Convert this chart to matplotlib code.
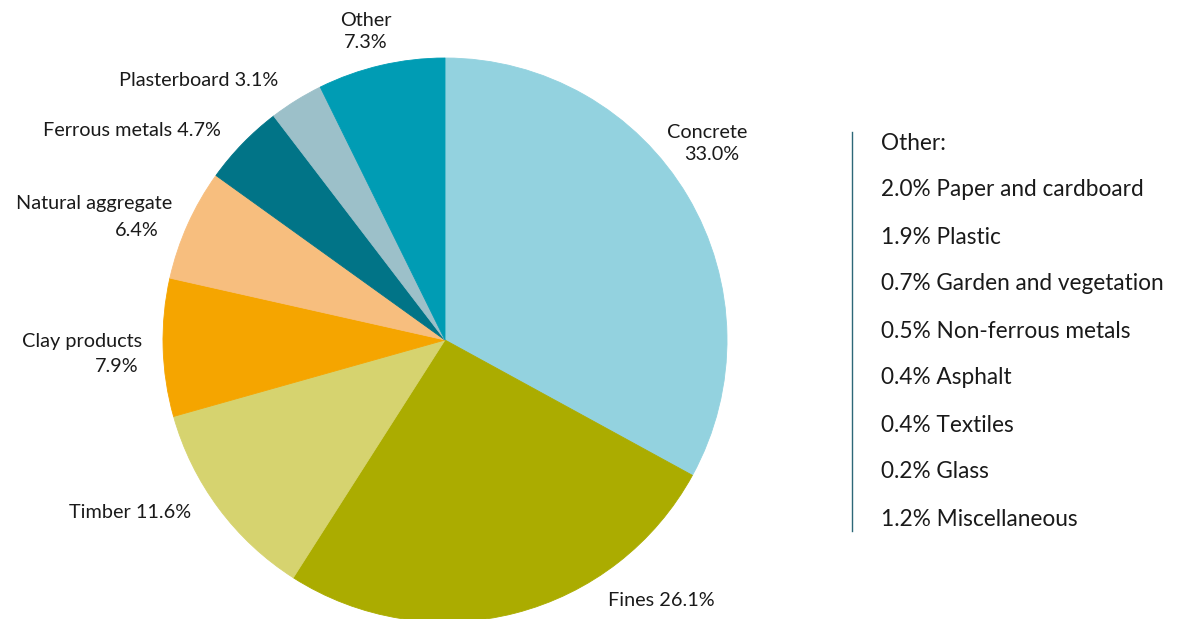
import matplotlib
matplotlib.use("Agg")
import matplotlib.pyplot as plt

# Composition of construction and demolition waste (%)
categories = ["Concrete", "Fines", "Timber", "Clay products", "Natural aggregate",
              "Ferrous metals", "Plasterboard", "Other"]
shares = [33.0, 26.1, 11.6, 7.9, 6.4, 4.7, 3.1, 7.3]
colors = ["#93d2df", "#abac00", "#d6d36f", "#f5a500", "#f7be7e",
          "#017487", "#9cc0c9", "#009cb4"]

# Breakdown of the "Other" slice
other_items = ["Paper and cardboard", "Plastic", "Garden and vegetation",
               "Non-ferrous metals", "Asphalt", "Textiles", "Glass", "Miscellaneous"]
other_shares = [2.0, 1.9, 0.7, 0.5, 0.4, 0.4, 0.2, 1.2]

W, H = 1177, 619
plt.rcParams["font.family"] = ["Lato", "DejaVu Sans"]
TXT = "#1a1a1a"
FS_PIE = 14.3
FS_SIDE = 16.3

fig = plt.figure(figsize=(W / 100, H / 100), dpi=100)
ax = fig.add_axes([0, 0, 1, 1])

cx, cy, r = 445, H - 340, 282
ax.pie(shares, colors=colors, startangle=90, counterclock=False,
       center=(cx, cy), radius=r, frame=True,
       wedgeprops=dict(linewidth=0.6, edgecolor="white"))
for w, c in zip(ax.patches, colors):
    w.set_edgecolor(c)

ax.set_xlim(0, W)
ax.set_ylim(0, H)
ax.set_aspect("equal")
ax.axis("off")


def lab(x, y, s, ha="left", fs=FS_PIE):
    ax.text(x, H - y, s, ha=ha, va="center", fontsize=fs, color=TXT)


pct = {c: f"{v:.1f}%" for c, v in zip(categories, shares)}

lab(366, 20, "Other", ha="center")
lab(366, 42, pct["Other"], ha="center")
lab(278, 81, f"Plasterboard {pct['Plasterboard']}", ha="right")
lab(221, 131, f"Ferrous metals {pct['Ferrous metals']}", ha="right")
lab(172, 204, "Natural aggregate", ha="right")
lab(159, 231, pct["Natural aggregate"], ha="right")
lab(142, 342, "Clay products", ha="right")
lab(138, 366, pct["Clay products"], ha="right")
lab(191, 512, f"Timber {pct['Timber']}", ha="right")
lab(608, 600, f"Fines {pct['Fines']}", ha="left")
lab(707, 133, "Concrete", ha="center")
lab(712, 155, pct["Concrete"], ha="center")

# Side panel listing the components of "Other"
ax.plot([852, 852], [H - 132, H - 531], color="#2d6878", lw=1.0)
lab(881, 143, "Other:", fs=FS_SIDE)
for i, (name, v) in enumerate(zip(other_items, other_shares)):
    lab(881, 190 + 47 * i, f"{v:.1f}% {name}", fs=FS_SIDE)

fig.savefig("out.png", dpi=100, facecolor="white")
